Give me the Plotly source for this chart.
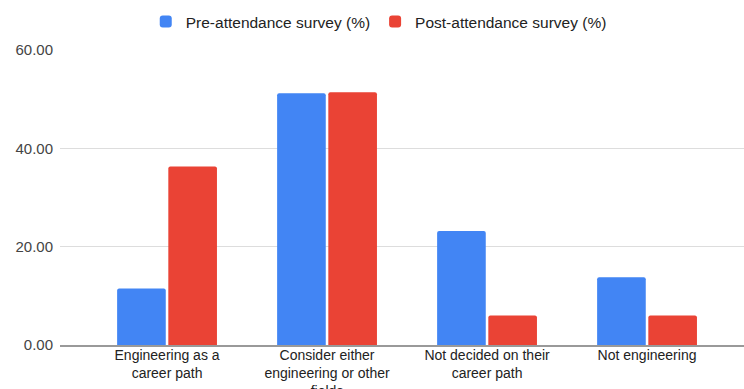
import plotly.graph_objects as go

categories = [
    "Engineering as a<br>career path",
    "Consider either<br>engineering or other<br>fields",
    "Not decided on their<br>career path",
    "Not engineering",
]
pre_values = [11.5, 51.2, 23.2, 13.8]
post_values = [36.3, 51.4, 6.0, 6.0]
series_names = ["Pre-attendance survey (%)", "Post-attendance survey (%)"]
y_ticks = [0, 20, 40, 60]

FONT = "Liberation Sans, Arial, sans-serif"

fig = go.Figure()
fig.add_trace(go.Bar(x=list(range(len(categories))), y=pre_values, name=series_names[0],
                     marker=dict(color="#4285F4", cornerradius=2, line=dict(width=0))))
fig.add_trace(go.Bar(x=list(range(len(categories))), y=post_values, name=series_names[1],
                     marker=dict(color="#EA4335", cornerradius=2, line=dict(width=0))))

fig.update_layout(
    width=744, height=389,
    margin=dict(l=60, r=0, t=50, b=44, pad=0),
    paper_bgcolor="white", plot_bgcolor="white",
    barmode="group", bargap=0.36, bargroupgap=0.05,
    font=dict(family=FONT, size=15, color="#222222"),
    legend=dict(orientation="h", x=0.466, xanchor="center", y=1.095, yanchor="middle",
                font=dict(size=15.5, color="#222222"), bgcolor="rgba(0,0,0,0)"),
    showlegend=True,
)
fig.update_xaxes(
    tickmode="array", tickvals=list(range(len(categories))), ticktext=categories,
    range=[-0.669, 3.606], showgrid=False, showline=True, linecolor="#999999", linewidth=1.5,
    ticks="", tickfont=dict(size=14, color="#222222"), ticklabelstandoff=-4,
    fixedrange=True, automargin=False,
)
fig.update_yaxes(
    range=[0, 60], tickvals=y_ticks, tickformat=".2f", showgrid=True, gridcolor="#dddddd",
    gridwidth=1, zeroline=False, showline=False, ticks="", ticklabelstandoff=6,
    tickfont=dict(size=15, color="#444444"), fixedrange=True, automargin=False,
)

fig.write_html("out.html")
